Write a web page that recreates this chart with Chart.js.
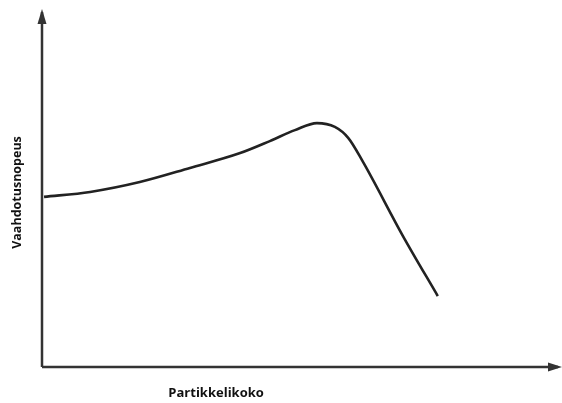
<!DOCTYPE html>
<html>
<head>
<meta charset="utf-8">
<script src="https://cdn.jsdelivr.net/npm/chart.js@4/dist/chart.umd.min.js"></script>
<style>
html,body{margin:0;padding:0;background:#fff;}
#wrap{width:562px;height:403px;position:relative;}
</style>
</head>
<body>
<div id="wrap"><canvas id="c" width="562" height="403"></canvas></div>
<script>
const particleSize = [0.4, 9.4, 19.1, 28.9, 38.7, 44.5, 49.4, 53.7, 57.2, 59.8, 62.5, 70.5, 77.3];
const flotationRate = [48.2, 49.6, 52.4, 56.4, 60.6, 64.0, 67.1, 69.1, 68.0, 64.9, 58.6, 37.1, 20.1];
const xLabel = "Partikkelikoko";
const yLabel = "Vaahdotusnopeus";

const axisColor = "#333";
const fontFamily = "'Open Sans', 'Noto Sans', sans-serif";

const decor = {
  id: 'decor',
  afterDraw(chart) {
    const ctx = chart.ctx;
    const a = chart.chartArea;
    const xs = chart.scales.x;
    ctx.save();
    ctx.strokeStyle = axisColor;
    ctx.fillStyle = axisColor;
    ctx.lineWidth = 2.5;
    ctx.beginPath();
    ctx.moveTo(a.left, a.bottom);
    ctx.lineTo(a.left, a.top - 2);
    ctx.stroke();
    ctx.beginPath();
    ctx.moveTo(a.left, a.top - 5);
    ctx.lineTo(a.left - 4.5, a.top + 10);
    ctx.lineTo(a.left + 4.5, a.top + 10);
    ctx.closePath();
    ctx.fill();
    ctx.beginPath();
    ctx.moveTo(a.left, a.bottom);
    ctx.lineTo(a.right + 4, a.bottom);
    ctx.stroke();
    ctx.beginPath();
    ctx.moveTo(a.right + 8, a.bottom);
    ctx.lineTo(a.right - 6, a.bottom - 4.5);
    ctx.lineTo(a.right - 6, a.bottom + 4.5);
    ctx.closePath();
    ctx.fill();
    ctx.fillStyle = "#111";
    ctx.font = "bold 13px " + fontFamily;
    ctx.textAlign = "center";
    ctx.textBaseline = "middle";
    ctx.fillText(xLabel, xs.getPixelForValue(34), a.bottom + 26);
    ctx.font = "bold 12.5px " + fontFamily;
    ctx.translate(17, (a.top + a.bottom) / 2 + 2);
    ctx.rotate(-Math.PI / 2);
    ctx.fillText(yLabel, 0, 0);
    ctx.restore();
  }
};

new Chart(document.getElementById('c'), {
  type: 'line',
  data: {
    datasets: [{
      data: particleSize.map((x, i) => ({x: x, y: flotationRate[i]})),
      borderColor: '#222',
      borderWidth: 2.6,
      pointRadius: 0,
      fill: false,
      cubicInterpolationMode: 'monotone'
    }]
  },
  options: {
    responsive: false,
    animation: false,
    devicePixelRatio: 1,
    layout: { padding: { left: 42, right: 8, top: 14, bottom: 36 } },
    plugins: { legend: { display: false }, tooltip: { enabled: false } },
    scales: {
      x: {
        type: 'linear', min: 0, max: 100,
        grid: { display: false, drawTicks: false },
        border: { display: false },
        ticks: { display: false }
      },
      y: {
        min: 0, max: 100,
        grid: { display: false, drawTicks: false },
        border: { display: false },
        ticks: { display: false }
      }
    }
  },
  plugins: [decor]
});
</script>
</body>
</html>
